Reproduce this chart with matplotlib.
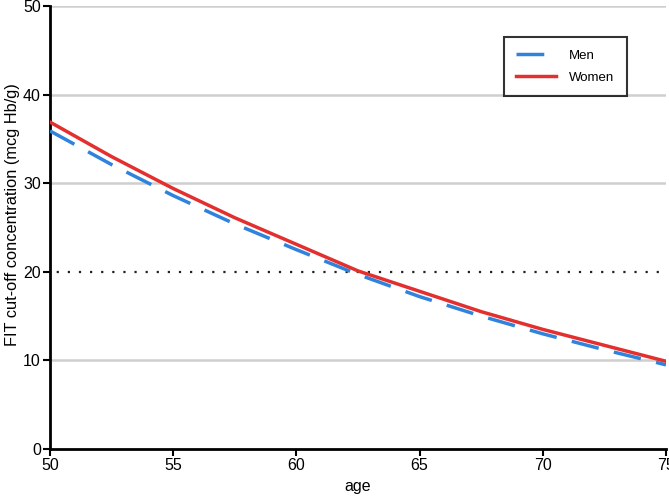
import matplotlib
matplotlib.use("Agg")
import matplotlib.pyplot as plt

# 年齡與 FIT 閾值
ages = [50, 52.5, 55, 57.5, 60, 62.5, 65, 67.5, 70, 72.5, 75]
men = [35.9, 32.1, 28.6, 25.4, 22.5, 19.7, 17.2, 15.0, 13.0, 11.2, 9.5]
women = [36.9, 33.0, 29.4, 26.1, 23.1, 20.1, 17.8, 15.5, 13.5, 11.7, 9.9]
ref_level = 20
y_ticks = [0, 10, 20, 30, 40, 50]
x_ticks = [50, 55, 60, 65, 70, 75]

plt.rcParams['font.family'] = ['Liberation Sans', 'DejaVu Sans']

fig = plt.figure(figsize=(6.69, 4.99), dpi=100)
ax = fig.add_axes([50 / 669, 50 / 499, 616 / 669, 443 / 499])

# 水平格線
for y in y_ticks[1:]:
    if y != ref_level:
        ax.axhline(y, color="#cfcfcf", lw=1.8, zorder=1)
ax.axhline(ref_level, color="#222222", lw=1.6, ls=(2, (1, 4)), zorder=2)

ax.plot(ages, men, color="#2f83dc", lw=2.5, dashes=(8, 4.5), label="Men", zorder=3)
ax.plot(ages, women, color="#e3302f", lw=2.5, label="Women", zorder=4)

ax.set_xlim(50, 75)
ax.set_ylim(0, 50)
ax.set_xticks(x_ticks)
ax.set_yticks(y_ticks)
ax.spines['top'].set_visible(False)
ax.spines['right'].set_visible(False)
ax.spines['left'].set_linewidth(2)
ax.spines['bottom'].set_linewidth(2)
ax.tick_params(axis='both', direction='out', length=5, width=1.5, labelsize=11.5, pad=1.5)
ax.set_xlabel("age", fontsize=11.5, labelpad=4)
ax.set_ylabel("FIT cut-off concentration (mcg Hb/g)", fontsize=11.8)
ax.yaxis.set_label_coords(-0.049, 0.53)

leg = ax.legend(loc="upper right", frameon=True, fancybox=False,
                fontsize=9.5, handlelength=3.0, borderpad=0.95, labelspacing=0.75,
                handletextpad=1.0, borderaxespad=0)
leg.get_frame().set_edgecolor("black")
leg.get_frame().set_linewidth(1.5)
# 圖例位置（座標軸比例）
leg.set_bbox_to_anchor(((627 - 50) / 616, 1.0 - (37 - 6) / 443), transform=ax.transAxes)

fig.savefig("out.png", dpi=100)
